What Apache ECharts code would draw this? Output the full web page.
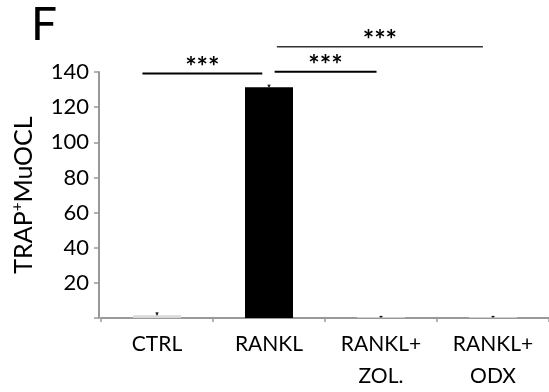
<!DOCTYPE html>
<html>
<head>
<meta charset="utf-8">
<script src="https://cdn.jsdelivr.net/npm/echarts@6/dist/echarts.min.js"></script>
<style>
  html, body { margin: 0; padding: 0; background: #fff; }
  #chart-panel { width: 549px; height: 392px; }
</style>
</head>
<body>
<div id="chart-panel"></div>
<script>
// groups and values
const categories = ['CTRL', 'RANKL', 'RANKL+\nZOL.', 'RANKL+\nODX'];
const barValues = [1.5, 131.3, 0.3, 0.3];
const errTop = [2.9, 132.5, 0.9, 0.9];
const barColors = ['#d9d9d9', '#000000', '#ffffff', '#ffffff'];
const yTicks = [0, 20, 40, 60, 80, 100, 120, 140];
// significance brackets: [from category, to category, height]
const sigLines = [
  [-0.13, 0.94, 139.2],
  [1.05, 1.96, 140.2],
  [1.07, 2.91, 154.4]
];
const sigLabels = ['***', '***', '***'];

const font = 'Lato';

const chart = echarts.init(document.getElementById('chart-panel'));

const option = {
  backgroundColor: '#fff',
  animation: false,
  grid: {
    left: 101,
    right: -4,
    top: 72,
    bottom: 64
  },
  graphic: [
    {
      type: 'text',
      left: 31,
      top: 2,
      style: { text: 'F', font: '46px ' + font, fill: '#000' }
    }
  ],
  xAxis: {
    type: 'category',
    data: categories,
    axisLine: { lineStyle: { color: '#999', width: 2 } },
    axisTick: { show: true, length: 4, lineStyle: { color: '#999', width: 1.5 } },
    axisLabel: {
      color: '#000',
      fontFamily: font,
      fontSize: 21,
      lineHeight: 32,
      margin: 10,
      interval: 0
    }
  },
  yAxis: {
    type: 'value',
    min: yTicks[0],
    max: yTicks[yTicks.length - 1],
    interval: 20,
    offset: 2,
    name: '{a|TRAP}{s|+}{a|MuOCL}',
    nameLocation: 'middle',
    nameRotate: 90,
    nameGap: 62,
    nameTextStyle: {
      rich: {
        a: { fontFamily: font, fontSize: 25, color: '#000' },
        s: { fontFamily: font, fontSize: 15, color: '#000', verticalAlign: 'top', padding: [0, 0, 12, 0] }
      }
    },
    axisLine: { show: true, lineStyle: { color: '#999', width: 2 } },
    axisTick: { show: true, length: 5, lineStyle: { color: '#999', width: 1.5 } },
    axisLabel: {
      color: '#000',
      fontFamily: font,
      fontSize: 22,
      margin: 10,
      formatter: v => (v === 0 ? '' : String(v))
    },
    splitLine: { show: false }
  },
  series: [
    {
      type: 'bar',
      barWidth: 48,
      data: barValues.map((v, i) => ({ value: v, itemStyle: { color: barColors[i] } }))
    },
    {
      type: 'custom',
      data: errTop.map((v, i) => [i, v]),
      renderItem: function (params, api) {
        const i = params.dataIndex;
        const base = api.coord([i, barValues[i]]);
        const top = api.coord([i, api.value(1)]);
        return {
          type: 'group',
          children: [
            { type: 'line', shape: { x1: base[0], y1: base[1], x2: top[0], y2: top[1] }, style: { stroke: '#000', lineWidth: 1.5 } },
            { type: 'line', shape: { x1: top[0] - 1.5, y1: top[1], x2: top[0] + 1.5, y2: top[1] }, style: { stroke: '#000', lineWidth: 1 } }
          ]
        };
      },
      z: 5
    },
    {
      type: 'custom',
      data: sigLines.map(s => [0, s[2]]),
      renderItem: function (params, api) {
        const s = sigLines[params.dataIndex];
        const c0 = api.coord([0, s[2]]);
        const band = api.size([1, 0])[0];
        const x1 = c0[0] + s[0] * band;
        const x2 = c0[0] + s[1] * band;
        const y = c0[1];
        const last = params.dataIndex === 2;
        return {
          type: 'group',
          children: [
            { type: 'line', shape: { x1: x1, y1: y, x2: x2, y2: y }, style: { stroke: last ? '#333' : '#000', lineWidth: last ? 1.5 : 2 } },
            {
              type: 'text',
              x: (x1 + x2) / 2,
              y: y + 7,
              style: { text: sigLabels[params.dataIndex], font: 'bold 27px ' + font, fill: '#000', align: 'center', verticalAlign: 'bottom' }
            }
          ]
        };
      },
      z: 5
    }
  ]
};

chart.setOption(option);
</script>
</body>
</html>
